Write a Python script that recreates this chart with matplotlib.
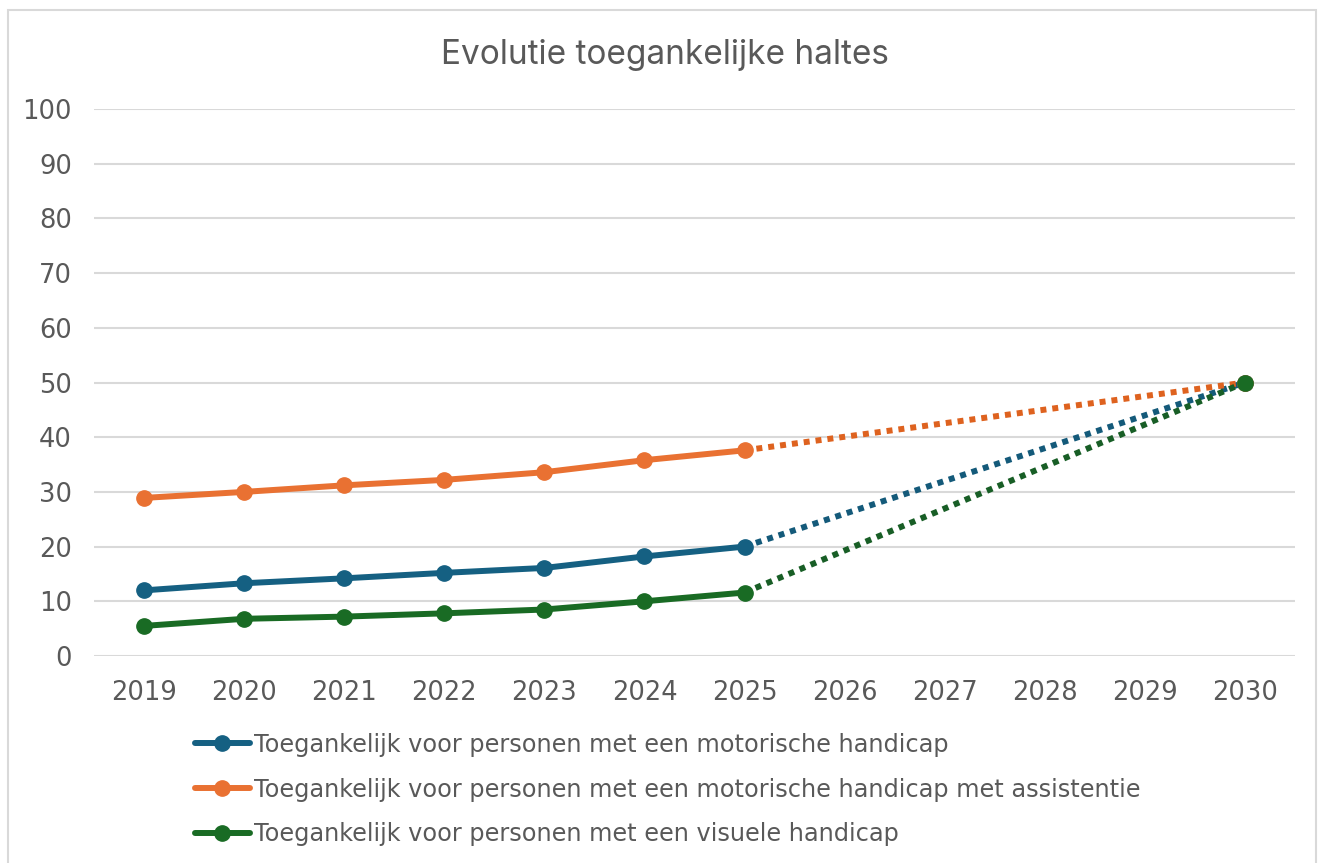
import numpy as np
import matplotlib
matplotlib.use("Agg")
import matplotlib.pyplot as plt
from matplotlib.patches import Rectangle

# data
years = [2019, 2020, 2021, 2022, 2023, 2024, 2025, 2026, 2027, 2028, 2029, 2030]
hist_years = [2019, 2020, 2021, 2022, 2023, 2024, 2025]
proj_years = [2025, 2030]

motorisch = [12.0, 13.3, 14.2, 15.2, 16.1, 18.2, 20.0]
assistentie = [28.9, 30.0, 31.2, 32.2, 33.6, 35.8, 37.6]
visueel = [5.5, 6.8, 7.2, 7.8, 8.5, 10.0, 11.6]

motorisch_doel = [20.0, 50.0]
assistentie_doel = [37.6, 50.0]
visueel_doel = [11.6, 50.0]

labels = [
    "Toegankelijk voor personen met een motorische handicap",
    "Toegankelijk voor personen met een motorische handicap met assistentie",
    "Toegankelijk voor personen met een visuele handicap",
]

text_color = "#595959"
grid_color = "#D9D9D9"

plt.rcParams["font.family"] = ["DejaVu Sans"]

W, H = 1331, 863
fig = plt.figure(figsize=(W / 100, H / 100), dpi=100)
fig.patches.append(Rectangle((8 / W, -0.1), 1308 / W, 1 - 10 / H + 0.1,
                             transform=fig.transFigure, fill=False,
                             edgecolor=grid_color, linewidth=1.5))

ax = fig.add_axes([94 / W, 1 - 656 / H, (1295 - 94) / W, (656 - 109) / H])

series = [
    (motorisch, motorisch_doel, "#156082", "#145A7A"),
    (assistentie, assistentie_doel, "#E97132", "#DE621F"),
    (visueel, visueel_doel, "#196B24", "#185E26"),
]

handles = []
for (hist, proj, col, dcol), lab in zip(series, labels):
    h, = ax.plot(hist_years, hist, color=col, lw=4.3, marker="o", ms=11,
                 solid_capstyle="round", zorder=3, label=lab)
    handles.append(h)

# dotted projection towards the 2030 target
for i, (hist, proj, col, dcol) in enumerate(series):
    ax.plot(proj_years, proj, color=dcol, lw=4.3, ls=(0, (1.0, 1.0)),
            dash_capstyle="butt", zorder=2)
    ax.plot(proj_years[-1:], proj[-1:], color=col, marker="o", ms=11,
            ls="none", zorder=4 + i)

ax.set_xlim(2018.5, 2030.5)
ax.set_ylim(0, 100)
ax.set_xticks(years)
ax.set_yticks(np.arange(0, 101, 10))
ax.tick_params(length=0, labelsize=18.5, colors=text_color)
ax.tick_params(axis="y", pad=16)
ax.tick_params(axis="x", pad=17)
ax.grid(axis="y", color=grid_color, lw=1.5)
ax.set_axisbelow(True)
for s in ax.spines.values():
    s.set_visible(False)

fig.text(665 / W, 1 - 55 / H, "Evolutie toegankelijke haltes", ha="center",
         va="center", fontsize=24, color=text_color, family=["Inter", "DejaVu Sans"])

leg = fig.legend(handles=handles, loc="upper left",
                 bbox_to_anchor=(185 / W, 1 - 723 / H), frameon=False,
                 borderaxespad=0, fontsize=17.3, handlelength=2.3,
                 handletextpad=0.17, labelspacing=0.87, labelcolor=text_color)

fig.savefig("out.png", dpi=100)
